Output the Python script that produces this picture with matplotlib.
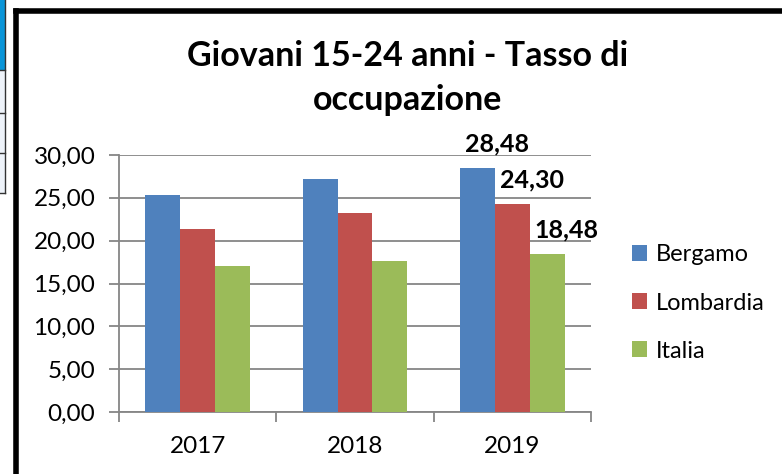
import matplotlib.pyplot as plt
import numpy as np
from matplotlib.lines import Line2D
from matplotlib.patches import Rectangle
from matplotlib.ticker import FuncFormatter

# ==========================================
# DATA
# ==========================================

years = ["2017", "2018", "2019"]
series = ["Bergamo", "Lombardia", "Italia"]
bergamo = [25.30, 27.20, 28.48]
lombardia = [21.40, 23.20, 24.30]
italia = [17.00, 17.60, 18.48]
colors = ["#4F81BD", "#C0504D", "#9BBB59"]

title = "Giovani 15-24 anni - Tasso di\noccupazione"

plt.rcParams["font.family"] = ["Lato", "DejaVu Sans"]

W, H = 782, 474
fig = plt.figure(figsize=(W / 100, H / 100), dpi=100)

# ==========================================
# BACKGROUND DETAILS (border, table fragment)
# ==========================================

fig.add_artist(Rectangle((0, 1 - 70 / H), 5 / W, 70 / H, transform=fig.transFigure,
                         facecolor="#0A95D8", edgecolor="none"))
fig.add_artist(Rectangle((0, 1 - 193 / H), 5 / W, 123 / H, transform=fig.transFigure,
                         facecolor="#EEF3FA", edgecolor="none"))
for yy in [70, 113, 153, 193]:
    fig.add_artist(Line2D([0, 5 / W], [1 - yy / H, 1 - yy / H], transform=fig.transFigure,
                          color="#333333", lw=1))
fig.add_artist(Line2D([4.5 / W, 4.5 / W], [1, 1 - 193 / H], transform=fig.transFigure,
                      color="#333333", lw=1))

fig.add_artist(Line2D([15.5 / W, 15.5 / W], [0, 1 - 10.5 / H], transform=fig.transFigure,
                      color="black", lw=4, solid_capstyle="projecting"))
fig.add_artist(Line2D([15.5 / W, 1], [1 - 10.5 / H, 1 - 10.5 / H], transform=fig.transFigure,
                      color="black", lw=4, solid_capstyle="projecting"))

# ==========================================
# CHART
# ==========================================

left, right, top, bottom = 119, 591, 155, 412
ax = fig.add_axes([left / W, 1 - bottom / H, (right - left) / W, (bottom - top) / H])

x = np.arange(len(years))
width = 1 / 4.5
values = [bergamo, lombardia, italia]
for i, (name, vals, c) in enumerate(zip(series, values, colors)):
    ax.bar(x + (i - 1) * width, vals, width, color=c, label=name, zorder=3)

# data labels on 2019 only
for i, vals in enumerate(values):
    ax.annotate(f"{vals[2]:.2f}".replace(".", ","),
                xy=(x[2] + (i - 1) * width, vals[2]),
                xytext=(14, 17), textcoords="offset points",
                ha="center", va="center", fontsize=18, fontweight="bold")

ax.set_xlim(-0.5, 2.5)
ax.set_ylim(0, 30)
ax.set_yticks(np.arange(0, 31, 5))
ax.yaxis.set_major_formatter(FuncFormatter(lambda v, p: f"{v:.2f}".replace(".", ",")))
ax.set_xticks(x)
ax.set_xticklabels(years)
ax.set_xticks([-0.5, 0.5, 1.5, 2.5], minor=True)

ax.grid(axis="y", color="#868686", lw=1.3, zorder=0)
for s in ["top", "right"]:
    ax.spines[s].set_visible(False)
for s in ["left", "bottom"]:
    ax.spines[s].set_color("#868686")
    ax.spines[s].set_linewidth(1.3)

ax.tick_params(axis="y", length=7, width=1.3, color="#868686", labelsize=17.5, pad=10)
ax.tick_params(axis="x", which="major", length=0, labelsize=17.5, pad=17)
ax.tick_params(axis="x", which="minor", length=7, width=1.3, color="#868686")

fig.text(408 / W, 1 - 78 / H, title, ha="center", va="center", fontsize=24.5,
         fontweight="bold", linespacing=1.5)

ax.legend(loc="center left", bbox_to_anchor=(632 / W, 1 - 303 / H),
          bbox_transform=fig.transFigure, frameon=False, fontsize=17,
          handlelength=0.65, handleheight=0.65, handletextpad=0.35, labelspacing=1.15,
          borderaxespad=0, borderpad=0)

fig.savefig("out.png", dpi=100)
